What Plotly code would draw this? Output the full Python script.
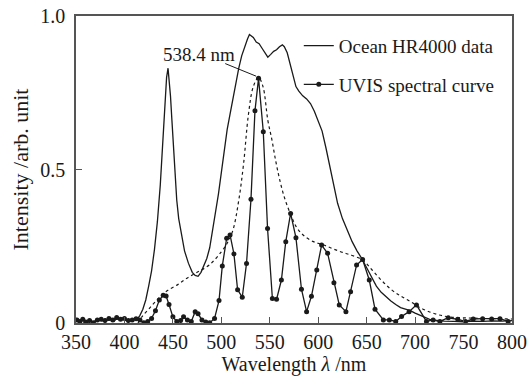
import plotly.graph_objects as go

# Ocean HR4000 measured spectrum
ocean_wl = [350, 353, 356, 359, 362, 365, 368, 371, 374, 377, 380, 383, 386, 389, 392, 395, 398, 401, 404, 407,
            410, 413, 416, 419, 422, 425, 428, 431, 434, 437, 440, 442, 443.5, 445, 446, 447.5, 449, 450.5, 452, 454,
            456, 459, 462, 466, 470, 473, 476, 479, 482, 485, 488, 491, 494, 497, 500, 503, 506, 509, 512, 515,
            518, 521, 524, 527, 529, 531, 533, 536, 539, 542, 545, 548, 551, 554, 557, 560, 563, 565, 568, 571,
            574, 577, 580, 584, 588, 592, 596, 600, 604, 608, 612, 616, 620, 625, 630, 635, 640, 645, 650, 655,
            660, 665, 670, 675, 680, 685, 690, 695, 700, 705, 710, 715, 720, 725, 730, 740, 750, 760, 770, 780,
            790, 800]
ocean_int = [0.010, 0.004, 0.012, 0.006, 0.002, 0.008, 0.003, 0.010, 0.012, 0.007, 0.013, 0.009, 0.011, 0.006, 0.014, 0.010, 0.016, 0.008, 0.012, 0.009,
             0.014, 0.011, 0.025, 0.045, 0.075, 0.12, 0.17, 0.24, 0.33, 0.45, 0.63, 0.74, 0.80, 0.83, 0.80, 0.74, 0.66, 0.58, 0.48, 0.40,
             0.34, 0.28, 0.235, 0.195, 0.165, 0.155, 0.152, 0.165, 0.185, 0.21, 0.245, 0.30, 0.36, 0.42, 0.49, 0.56, 0.63, 0.68, 0.73, 0.79,
             0.83, 0.87, 0.90, 0.925, 0.94, 0.935, 0.93, 0.915, 0.91, 0.895, 0.88, 0.866, 0.875, 0.885, 0.89, 0.90, 0.906, 0.90, 0.88, 0.84,
             0.80, 0.77, 0.755, 0.74, 0.73, 0.715, 0.69, 0.66, 0.625, 0.57, 0.51, 0.44, 0.39, 0.34, 0.30, 0.265, 0.235, 0.21, 0.18, 0.15,
             0.12, 0.10, 0.085, 0.072, 0.06, 0.05, 0.045, 0.04, 0.032, 0.025, 0.018, 0.012, 0.009, 0.007, 0.006, 0.005, 0.004, 0.006, 0.005, 0.007,
             0.006, 0.008]

# UVIS spectral curve (points)
uvis_wl = [351, 354, 357, 360, 364, 368, 372, 376, 380, 384, 388, 392, 396, 400, 404, 408, 412, 416, 420, 424,
           428, 432, 436, 440, 443, 446, 450, 454, 458, 461, 465, 469, 473, 476, 480, 484, 488, 493, 497.6, 501,
           505.5, 509, 513, 516.8, 521.6, 526, 530.6, 534.7, 538.4, 543.3, 547.7, 552.7, 557, 562, 566.5, 571.5, 577, 582.7, 588, 593,
           598.5, 603.5, 609.7, 616.2, 621.7, 628.6, 633.4, 639.6, 645.8, 652.7, 658.6, 667.2, 673.4, 680, 686, 693.8, 701.4, 711.7, 718.6, 725.6,
           734.2, 744, 752, 760, 769.7, 779, 787.6, 796]
uvis_int = [0.010, 0.005, 0.012, 0.003, 0.008, 0.001, 0.010, 0.012, 0.008, 0.015, 0.010, 0.018, 0.012, 0.015, 0.008, 0.010, 0.014, 0.010, 0.001, 0.005,
            0.015, 0.040, 0.075, 0.090, 0.088, 0.060, 0.020, 0.005, 0.008, 0.020, 0.010, 0.005, 0.037, 0.030, 0.010, 0.003, 0.001, 0.015, 0.073, 0.186,
            0.276, 0.287, 0.225, 0.108, 0.084, 0.194, 0.403, 0.691, 0.797, 0.623, 0.308, 0.080, 0.077, 0.140, 0.265, 0.357, 0.278, 0.110, 0.037, 0.087,
            0.173, 0.254, 0.227, 0.131, 0.059, 0.037, 0.102, 0.189, 0.207, 0.140, 0.045, 0.010, 0.010, 0.005, 0.021, 0.037, 0.059, 0.005, 0.010, 0.005,
            0.017, 0.012, 0.005, 0.013, 0.014, 0.013, 0.014, 0.005]

# Dashed envelope curve
env_wl = [414, 418, 425, 435, 444, 455, 464, 475, 488, 500, 506, 512, 518, 523, 528, 533, 538.4, 543, 548, 552,
          556, 560, 565, 572, 578, 585, 595, 605, 615, 625, 635, 646, 655, 665, 675, 685, 695, 705, 715, 725,
          735, 750, 770, 800]
env_int = [0.0, 0.02, 0.045, 0.08, 0.105, 0.125, 0.145, 0.165, 0.19, 0.232, 0.26, 0.303, 0.40, 0.52, 0.68, 0.77, 0.80, 0.77, 0.66, 0.60,
           0.53, 0.47, 0.41, 0.35, 0.31, 0.285, 0.265, 0.255, 0.242, 0.23, 0.22, 0.205, 0.175, 0.14, 0.11, 0.088, 0.07, 0.05, 0.036, 0.026,
           0.02, 0.017, 0.015, 0.013]

x_ticks = [350, 400, 450, 500, 550, 600, 650, 700, 750, 800]
y_ticks = [0, 0.5, 1.0]
y_tick_text = ["0", "0.5", "1.0"]

peak_label = "538.4 nm"
peak_wl = 538.4
peak_val = 0.797

FONT = "Liberation Serif"
INK = "#1a1a1a"

fig = go.Figure()
fig.add_trace(go.Scatter(x=env_wl, y=env_int, mode="lines", showlegend=False,
                         line=dict(color=INK, width=1.2, dash="3px,3px"), line_shape="spline"))
fig.add_trace(go.Scatter(x=ocean_wl, y=ocean_int, mode="lines", name="Ocean HR4000 data",
                         legendgroup="a", line=dict(color=INK, width=1.3)))
fig.add_trace(go.Scatter(x=uvis_wl, y=uvis_int, mode="lines+markers", name="UVIS spectral curve",
                         legendgroup="b", line=dict(color=INK, width=1.3),
                         marker=dict(size=5, color=INK)))

# leader line + label for the peak
fig.add_shape(type="line", x0=504, y0=0.845, x1=peak_wl - 2.5, y1=peak_val + 0.007,
              line=dict(color=INK, width=1))
fig.add_annotation(x=477, y=0.873, text=peak_label, showarrow=False,
                   font=dict(family=FONT, size=19, color=INK))

axis_common = dict(showline=True, linecolor="#555555", linewidth=1.5, mirror=True,
                   ticks="inside", ticklen=6, tickcolor="#555555", tickwidth=1.2,
                   showgrid=False, zeroline=False, automargin=False,
                   tickfont=dict(family=FONT, size=20, color=INK))

fig.update_xaxes(range=[350, 800], tickvals=x_ticks,
                 title=dict(text="Wavelength <i>λ</i> /nm", font=dict(family=FONT, size=20, color=INK), standoff=4),
                 **axis_common)
fig.update_yaxes(range=[0, 1.0], tickvals=y_ticks, ticktext=y_tick_text, ticklabelstandoff=5,
                 title=dict(text="Intensity /arb. unit", font=dict(family=FONT, size=22, color=INK), standoff=6),
                 **axis_common)

fig.update_layout(
    width=529, height=378,
    margin=dict(l=76, r=17, t=16, b=55, autoexpand=False),
    paper_bgcolor="white", plot_bgcolor="white",
    font=dict(family=FONT, size=20, color=INK),
    showlegend=True,
    legend=dict(x=0.511, y=0.965, xanchor="left", yanchor="top",
                bgcolor="rgba(0,0,0,0)", font=dict(family=FONT, size=19, color=INK),
                tracegroupgap=11, itemwidth=30),
)

fig.write_html("out.html")
